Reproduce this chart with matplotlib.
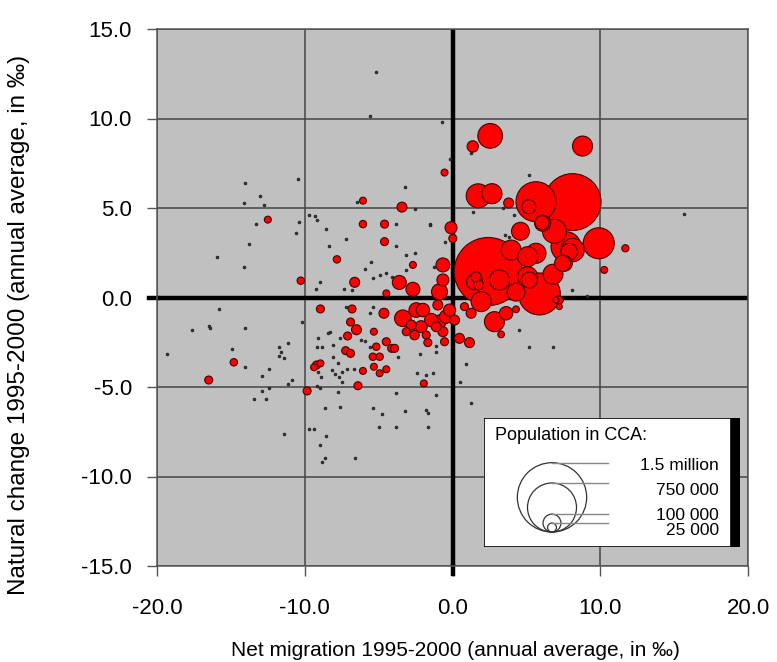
import numpy as np
import matplotlib
matplotlib.use("Agg")
import matplotlib.pyplot as plt
from matplotlib.patches import Rectangle, Circle

plt.rcParams['font.family'] = ['Liberation Sans', 'DejaVu Sans']

# red bubbles: net migration (x), natural change (y), population in thousands
big_x = [-12.5, -7.82, -10.27, -6.62, -8.94, -6.8, -6.9, -6.5, -7.1, -7.23, -6.9,
         -14.8, -16.5, -9.2, -8.94, -9.37, -9.84, -6.4, -6.06, -3.42, -0.54,
         -6.06, -4.6, -4.6, -2.68, -0.1, 0.02, -0.65, -3.6, -2.68, -4.48, -0.88,
         -0.65, -4.64,
         -3.36, -2.45, -2.0, -1.44, -2.79, -2.12, -0.88, -0.43, -3.13, -2.57,
         -1.78, -0.65, -1.1, 0.14, 0.47, 1.15, -0.54, -0.2, -0.99,
         -1.67, -5.32, -4.48, -4.12, -3.92, -5.16, -5.39, -4.93, -5.32, -4.93,
         -4.48, -6.06, -1.94,
         2.55, 1.37, 8.8, 1.74, 2.67, 3.8, 5.65, 5.16, 6.06, 8.13, 9.9, 11.7,
         10.27, 6.1, 7.68, 7.9, 7.57, 8.13, 7.45, 5.65, 3.97, 5.09, 5.09, 5.2,
         3.18, 1.6, 1.49, 1.76, 2.42, 5.88, 1.94, 2.84, 3.63, 1.26, 0.81, 7.0,
         7.23, 7.23, 4.3, 3.29,
         4.6, 6.9, 6.8, 4.3]
big_y = [4.35, 2.13, 0.94, 0.85, -0.64, -0.64, -1.37, -1.8, -2.15, -2.97, -3.12,
         -3.62, -4.61, -3.77, -3.68, -3.9, -5.22, -4.93, 5.41, 5.05, 6.98,
         4.1, 4.1, 3.12, 1.82, 3.9, 3.3, 1.82, 0.84, 0.46, 0.23, 0.32,
         0.98, -0.88,
         -1.16, -0.7, -0.7, -1.26, -1.54, -1.63, -1.35, -1.07, -1.91, -2.1,
         -2.1, -1.91, -1.63, -1.26, -2.28, -2.52, -2.47, -0.7, -0.42,
         -2.52, -1.91, -2.47, -2.84, -2.84, -2.75, -3.31, -3.31, -3.87, -4.23,
         -4.01, -4.1, -4.8,
         9.03, 8.44, 8.46, 5.68, 5.8, 5.28, 5.35, 5.07, 4.18, 5.33, 3.03, 2.75,
         1.54, 4.15, 2.84, 2.56, 1.91, 2.65, 1.91, 2.47, 2.65, 2.28, 1.16, 0.98,
         0.98, 1.16, 0.88, 0.7, 1.45, 0.2, -0.23, -1.35, -0.88, -0.88, -0.51, -0.14,
         -0.51, -0.14, -0.66, -2.06,
         3.7, 3.7, 1.3, 0.3]
big_pop = [15, 17, 17, 31, 20, 20, 20, 31, 20, 20, 20,
           17, 20, 20, 15, 15, 20, 20, 15, 31, 15,
           17, 20, 20, 15, 45, 20, 61, 61, 61, 15, 80,
           45, 31,
           86, 67, 56, 56, 31, 45, 56, 56, 20, 28,
           20, 31, 31, 31, 31, 31, 20, 45, 31,
           20, 15, 20, 20, 20, 17, 17, 17, 15, 15,
           15, 15, 15,
           190, 40, 125, 180, 125, 31, 500, 61, 61, 1010, 300, 16,
           15, 80, 280, 86, 80, 170, 80, 125, 125, 125, 125, 80,
           125, 31, 80, 31, 1450, 550, 125, 125, 56, 31, 20, 11,
           11, 20, 14, 14,
           100, 180, 125, 100]

# small places, drawn as dots
dot_x = [-14.05, -10.43, -13.04, -14.1, -12.75, -9.7, -9.28, -6.47, -13.3, -10.4,
         -9.2, -10.56, -13.76, -15.97, -14.1, -8.53, -7.18, -8.38, -8.94, -9.26,
         -7.34, -6.78, -15.8, -17.6, -16.5, -16.4, -14.03, -10.16, -7.18, -8.3,
         -7.63, -9.1, -8.8, -9.14, -8.09, -11.13, -11.74, -11.58, -11.74, -11.42,
         -14.95, -19.35, -14.05, -8.13, -7.97, -7.48, -7.68, -7.48, -7.14, -6.67,
         -9.1, -8.87, -12.9, -12.43, -10.83, -11.13, -9.2, -8.94, -7.75, -7.63,
         -8.65, -12.9, -12.43, -12.6, -13.45, -11.42, -9.7, -9.39, -8.53, -8.94,
         -8.65, -8.83, -6.62, -4.75, -3.24, -1.67, -5.0, -3.85, -1.67, -3.24,
         -0.2, -2.57, -5.16, -5.6, -0.7, 1.22, 5.2, 3.4, 4.14, 1.37,
         -1.5, -3.13, -2.57, 15.68, 8.07, 9.1, -3.8, -3.85, -5.5, -1.49,
         -1.22, -3.13, -5.95, -4.48, -0.54, -4.93, -4.07, -5.39, -5.6, -8.43,
         -5.95, -8.09, -7.75, -3.7, -5.39, -6.17, -5.6, -2.23, -1.1, -1.1,
         0.92, -2.39, -1.78, -1.33, 0.54, -3.8, -1.1, 1.26, -1.78, -5.39,
         4.53, 5.2, 6.78, 3.56, 3.85]
dot_y = [6.38, 6.62, 5.67, 5.3, 5.17, 4.59, 4.55, 5.32, 4.09, 4.2,
         4.33, 3.62, 2.97, 2.28, 1.69, 3.83, 3.25, 2.88, 0.88, 0.46,
         0.46, 0.42, -0.66, -1.82, -1.6, -1.69, -1.69, -1.35, -0.51, -1.93,
         -2.28, -2.24, -2.75, -2.78, -2.65, -2.52, -2.78, -3.03, -3.25, -3.4,
         -2.88, -3.16, -3.87, -4.05, -4.27, -4.18, -4.42, -4.7, -4.01, -4.01,
         -4.14, -4.42, -4.37, -4.01, -4.61, -4.83, -4.93, -5.07, -5.3, -6.1,
         -6.19, -5.22, -5.07, -5.69, -5.69, -7.63, -7.36, -7.36, -7.74, -8.24,
         -8.95, -9.19, -8.95, -6.53, -6.32, -6.44, -7.22, -7.25, -7.25, 6.16,
         7.72, 4.93, 12.58, 10.14, 9.79, 8.06, 6.84, 5.02, 4.6, 4.79,
         4.05, 2.37, 2.5, 4.66, 0.42, 0.08, 4.1, 2.88, 2.0, 4.1,
         1.69, 1.54, 1.58, 1.35, 3.12, 1.26, 1.13, 1.07, -0.88, -1.96,
         -2.41, -3.31, -3.68, -3.31, -0.51, -2.37, -2.75, -3.16, -2.71, -3.03,
         -3.73, -4.23, -4.33, -4.23, -4.7, -5.32, -5.45, -5.88, -6.28, -6.19,
         -1.82, -2.75, -2.75, 3.49, 3.36]
dot_pop = 2.5

x_ticks = [-20, -10, 0, 10, 20]
y_ticks = [-15, -10, -5, 0, 5, 10, 15]
legend_pops = [1500, 750, 100, 25]
legend_labels = ['1.5 million', '750 000', '100 000', '25 000']


def radius_px(pop_k):
    # bubble area proportional to population
    return 28.3 * np.sqrt(np.asarray(pop_k, dtype=float) / 1000.0)


def marker_size(pop_k):
    return (2 * radius_px(pop_k) * 72 / 100.0) ** 2


fig = plt.figure(figsize=(7.77, 6.62), dpi=100)
ax = fig.add_axes([157 / 777, 1 - 566 / 662, 591 / 777, 537 / 662])
ax.set_facecolor('#c0c0c0')
ax.set_xlim(-20, 20)
ax.set_ylim(-15, 15)

for v in x_ticks:
    ax.axvline(v, color='#454545', lw=1.1, zorder=1)
for v in y_ticks:
    ax.axhline(v, color='#454545', lw=1.1, zorder=1)
ax.axvline(0, color='black', lw=3.2, zorder=2)
ax.axhline(0, color='black', lw=3.2, zorder=2)
ax.plot([0, 0], [-15, -15.45], color='black', lw=3.2, clip_on=False)
ax.plot([-20, -20.55], [0, 0], color='black', lw=3.2, clip_on=False)

ax.scatter(dot_x, dot_y, s=marker_size(dot_pop), facecolor='#303030',
           edgecolor='#202020', linewidth=0.5, zorder=3)

order = np.argsort(big_pop)[::-1]
bx = np.array(big_x)[order]
by = np.array(big_y)[order]
bp = np.array(big_pop)[order]
ax.scatter(bx, by, s=marker_size(bp), facecolor='#ff0000',
           edgecolor='#4a0000', linewidth=0.8, zorder=4)

ax.set_xticks(x_ticks)
ax.set_yticks(y_ticks)
ax.set_xticklabels([f'{v:.1f}' for v in x_ticks])
ax.set_yticklabels([f'{v:.1f}' for v in y_ticks])
ax.tick_params(direction='out', length=7, width=1, color='#555555',
               labelsize=16)
ax.tick_params(axis='x', pad=16)
ax.tick_params(axis='y', pad=11)
for s in ax.spines.values():
    s.set_color('#555555')
    s.set_linewidth(1.1)

fig.text(455 / 777, 1 - 650 / 662,
         'Net migration 1995-2000 (annual average, in \u2030)',
         fontsize=15, ha='center', va='center')
fig.text(19 / 777, 1 - 325 / 662,
         'Natural change 1995-2000 (annual average, in \u2030)',
         fontsize=17.5, ha='center', va='center', rotation=90)

# legend box in pixel coordinates
lax = fig.add_axes([484 / 777, 1 - 547 / 662, 256 / 777, 129 / 662])
lax.set_xlim(484, 740)
lax.set_ylim(547, 418)
lax.axis('off')
lax.add_patch(Rectangle((484, 418), 247, 129, facecolor='white',
                        edgecolor='black', lw=1.2))
lax.add_patch(Rectangle((731, 418), 9, 129, facecolor='black',
                        edgecolor='black', lw=0))
lax.text(495, 435, 'Population in CCA:', fontsize=13, va='center', ha='left')
cx, base = 552, 532
label_y = [465, 490.5, 515, 530.5]
for p, lab, ly in zip(legend_pops, legend_labels, label_y):
    r = float(radius_px(p))
    lax.add_patch(Circle((cx, base - r), r, facecolor='none',
                         edgecolor='#333333', lw=0.9))
    lax.plot([cx, 608], [base - 2 * r, base - 2 * r], color='#888888', lw=1)
    lax.text(719, ly, lab, fontsize=12.5, va='center', ha='right')

fig.savefig('out.png', dpi=100)
